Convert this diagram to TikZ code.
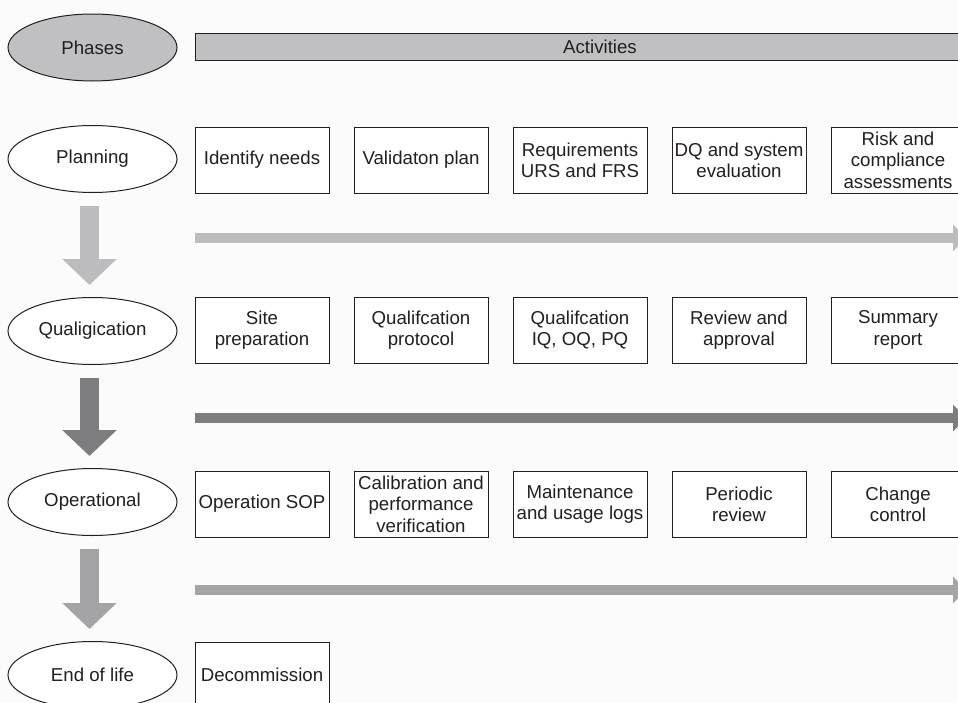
\documentclass[tikz,border=0pt]{standalone}
\usepackage{fontspec}
\setmainfont{Liberation Sans}
\usetikzlibrary{shapes.geometric,arrows.meta}
\definecolor{paper}{RGB}{251,251,251}
\definecolor{ink}{RGB}{35,31,32}
\definecolor{headgray}{RGB}{192,192,194}
\definecolor{lightflow}{RGB}{188,188,190}
\definecolor{midflow}{RGB}{164,164,167}
\definecolor{darkflow}{RGB}{125,125,128}

\begin{document}
\begin{tikzpicture}[x=0.75pt, y=-0.75pt, font=\fontsize{14}{16}\selectfont, text=ink,
   phase_style/.style={ellipse, draw=ink, line width=0.75pt, minimum width=126.75pt, minimum height=50.25pt, inner sep=0pt},
   act_style/.style={rectangle, draw=ink, line width=0.75pt, fill=white, minimum width=100.5pt, minimum height=49.5pt, inner sep=0pt, align=center},
   down_style/.style={line width=14.25pt, -{Triangle[width=39.75pt, length=19.5pt]}, shorten <=9.75pt, shorten >=9pt},
   flow_style/.style={line width=7.5pt, -{Triangle[width=19.5pt, length=9.75pt]}}]
	\useasboundingbox (0,0) rectangle (958,703);
	\clip (0,0) rectangle (958,703);
	\fill[paper] (0,0) rectangle (958,703);

	\node [phase_style, fill=headgray] (ph0) at (92.5,47.5) {Phases};
	\node [rectangle, draw=ink, line width=0.75pt, fill=headgray, minimum width=607.5pt, minimum height=20.25pt, inner sep=0pt] (acts) at (600,46.5) {Activities};

	\node [phase_style, fill=white] (ph1) at (92.5,159) {Planning};
	\node [phase_style, fill=white] (ph2) at (92.5,331) {Qualigication};
	\node [phase_style, fill=white] (ph3) at (92.5,502) {Operational};
	\node [phase_style, fill=white] (ph4) at (92.5,675) {End of life};

	\node [act_style] (a11) at (262,160) {Identify needs};
	\node [act_style] (a12) at (421,160) {Validaton plan};
	\node [act_style] (a13) at (580,160) {Requirements\\URS and FRS};
	\node [act_style] (a14) at (739,160) {DQ and system\\evaluation};
	\node [act_style] (a15) at (898,160) {Risk and\\compliance\\assessments};

	\node [act_style] (a21) at (262,330) {Site\\preparation};
	\node [act_style] (a22) at (421,330) {Qualifcation\\protocol};
	\node [act_style] (a23) at (580,330) {Qualifcation\\IQ, OQ, PQ};
	\node [act_style] (a24) at (739,330) {Review and\\approval};
	\node [act_style] (a25) at (898,330) {Summary\\report};

	\node [act_style] (a31) at (262,504) {Operation SOP};
	\node [act_style] (a32) at (421,504) {Calibration and\\performance\\verification};
	\node [act_style] (a33) at (580,504) {Maintenance\\and usage logs};
	\node [act_style] (a34) at (739,504) {Periodic\\review};
	\node [act_style] (a35) at (898,504) {Change\\control};

	\node [act_style] (a41) at (262,675) {Decommission};

	\coordinate (f1s) at (195,238);  \coordinate (f1e) at (966,238);
	\coordinate (f2s) at (195,418);  \coordinate (f2e) at (966,418);
	\coordinate (f3s) at (195,590);  \coordinate (f3e) at (966,590);

	\foreach \from/\to/\tone in {
		ph1/ph2/lightflow,
		ph2/ph3/darkflow,
		ph3/ph4/midflow}
	  \draw [down_style, draw=\tone, fill=\tone] ([xshift=-2.25pt]\from.south) -- ([xshift=-2.25pt]\to.north);

	\foreach \from/\to/\tone in {
		f1s/f1e/lightflow,
		f2s/f2e/darkflow,
		f3s/f3e/midflow}
	  \draw [flow_style, draw=\tone, fill=\tone] (\from) -- (\to);

\end{tikzpicture}
\end{document}
